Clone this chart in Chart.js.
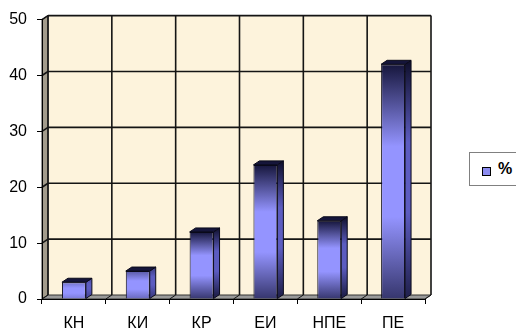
<!DOCTYPE html>
<html>
<head>
<meta charset="utf-8">
<script src="https://cdn.jsdelivr.net/npm/chart.js@4"></script>
<style>
  body { margin: 0; background: #fff; }
  #wrap { position: relative; width: 516px; height: 328px; overflow: hidden; }
  #chart { position: absolute; left: 0; top: 0; }
  #legend {
    position: absolute; left: 469px; top: 152px; width: 70px; height: 32px;
    border: 1px solid #808080; background: #fff;
    font: bold 16px Arial, "Liberation Sans", sans-serif; color: #000;
  }
  #legend .box {
    position: absolute; left: 12px; top: 14px; width: 7px; height: 7px;
    border: 1px solid #000; background: #8c8cf0;
  }
  #legend .txt { position: absolute; left: 28px; top: 7px; }
</style>
</head>
<body>
<div id="wrap">
  <canvas id="chart" width="516" height="328"></canvas>
  <div id="legend"><span class="box"></span><span class="txt" id="legend-text"></span></div>
</div>
<script>
// categories / values
const CATEGORIES = ['КН', 'КИ', 'КР', 'ЕИ', 'НПЕ', 'ПЕ'];
const PERCENT = [3, 5, 12, 24, 14, 42];
const SERIES_LABEL = '%';
const Y_MIN = 0, Y_MAX = 50, Y_STEP = 10;

const FONT = 'Arial, "Liberation Sans", sans-serif';
// 3D depth offset of the back wall
const DX = 6, DY = 4;

const WALL = '#fdf3dc';
const SIDE_WALL = '#a39c8c';
const FLOOR = '#9a9a9a';
const GRID = '#141414';
const LIGHT = '#9494ff', DARK = '#16163c';
const SIDE_LIGHT = '#5c5cc0', SIDE_DARK = '#0e0e2a';
const TOP_FACE = '#15153a';

function hex(c) { return [1, 3, 5].map(i => parseInt(c.substr(i, 2), 16)); }
function mix(a, b, k) {
  const A = hex(a), B = hex(b);
  return 'rgb(' + A.map((v, i) => Math.round(v + (B[i] - v) * k)).join(',') + ')';
}

// vertical gradient: dark ends, light middle (short bars stay light)
function barGradient(ctx, top, bot, light, dark) {
  const k = Math.min(1, (bot - top) / 60);
  const g = ctx.createLinearGradient(0, top, 0, bot);
  g.addColorStop(0, mix(light, dark, k));
  g.addColorStop(0.35, light);
  g.addColorStop(0.65, light);
  g.addColorStop(1, mix(light, dark, k * 0.75));
  return g;
}

function frontFill(context) {
  const chart = context.chart;
  if (!chart.chartArea) return LIGHT;
  const y = chart.scales.y;
  return barGradient(chart.ctx, y.getPixelForValue(context.raw), y.getPixelForValue(0), LIGHT, DARK);
}

function poly(ctx, pts, fill, stroke) {
  ctx.beginPath();
  pts.forEach((p, i) => i ? ctx.lineTo(p[0], p[1]) : ctx.moveTo(p[0], p[1]));
  ctx.closePath();
  if (fill) { ctx.fillStyle = fill; ctx.fill(); }
  if (stroke) { ctx.strokeStyle = stroke; ctx.lineWidth = 1; ctx.stroke(); }
}

function seg(ctx, x1, y1, x2, y2) {
  ctx.beginPath(); ctx.moveTo(x1, y1); ctx.lineTo(x2, y2); ctx.stroke();
}

// back wall, side wall, floor and their gridlines
const wallsPlugin = {
  id: 'walls',
  beforeDraw(chart) {
    const { ctx, chartArea: a, scales: { y } } = chart;
    const n = CATEGORIES.length;
    ctx.save();
    ctx.fillStyle = WALL;
    ctx.fillRect(a.left + DX, a.top - DY, a.right - a.left, a.bottom - a.top);
    poly(ctx, [[a.left, a.top], [a.left + DX, a.top - DY], [a.left + DX, a.bottom - DY], [a.left, a.bottom]], SIDE_WALL, '#333');
    poly(ctx, [[a.left, a.bottom], [a.left + DX, a.bottom - DY], [a.right + DX, a.bottom - DY], [a.right, a.bottom]], FLOOR, '#333');

    ctx.strokeStyle = GRID;
    ctx.lineWidth = 1.6;
    y.ticks.forEach(t => {
      const py = y.getPixelForValue(t.value);
      if (t.value !== Y_MIN) {
        seg(ctx, a.left, py, a.left + DX, py - DY);
        seg(ctx, a.left + DX, py - DY, a.right + DX, py - DY);
      }
    });
    for (let i = 0; i <= n; i++) {
      const bx = a.left + i * (a.right - a.left) / n;
      ctx.lineWidth = 1.6;
      seg(ctx, bx + DX, a.top - DY, bx + DX, a.bottom - DY);
      ctx.lineWidth = 1;
      seg(ctx, bx, a.bottom, bx + DX, a.bottom - DY);
    }
    ctx.restore();
  }
};

// side and top faces of each column
const bars3dPlugin = {
  id: 'bars3d',
  afterDatasetsDraw(chart) {
    const ctx = chart.ctx;
    const meta = chart.getDatasetMeta(0);
    ctx.save();
    meta.data.forEach(bar => {
      const { x, y, base, width } = bar.getProps(['x', 'y', 'base', 'width'], true);
      const l = x - width / 2, r = x + width / 2;
      const sideFill = barGradient(ctx, y - DY, base - DY, SIDE_LIGHT, SIDE_DARK);
      poly(ctx, [[r, y], [r + DX, y - DY], [r + DX, base - DY], [r, base]], sideFill, '#0a0a1a');
      poly(ctx, [[l, y], [l + DX, y - DY], [r + DX, y - DY], [r, y]], TOP_FACE, '#0a0a1a');
    });
    ctx.restore();
  }
};

document.getElementById('legend-text').textContent = SERIES_LABEL;

new Chart(document.getElementById('chart'), {
  type: 'bar',
  data: {
    labels: CATEGORIES,
    datasets: [{
      label: SERIES_LABEL,
      data: PERCENT,
      backgroundColor: frontFill,
      borderColor: '#0a0a1a',
      borderWidth: 1,
      barPercentage: 0.375,
      categoryPercentage: 1
    }]
  },
  options: {
    responsive: false,
    animation: false,
    layout: { padding: { top: 19, right: 91, bottom: 0, left: 0 } },
    plugins: { legend: { display: false }, tooltip: { enabled: false } },
    scales: {
      x: {
        grid: { drawOnChartArea: false, tickLength: 5, color: '#000', offset: true },
        border: { color: '#000', width: 1 },
        ticks: { color: '#000', font: { size: 16, family: FONT }, padding: 10, maxRotation: 0 },
        afterFit(s) { s.height = 29; }
      },
      y: {
        min: Y_MIN,
        max: Y_MAX,
        grid: { drawOnChartArea: false, tickLength: 5, color: '#000' },
        border: { color: '#000', width: 1 },
        ticks: { stepSize: Y_STEP, color: '#000', font: { size: 16, family: FONT }, padding: 10 },
        afterFit(s) { s.width = 42; }
      }
    }
  },
  plugins: [wallsPlugin, bars3dPlugin]
});
</script>
</body>
</html>
